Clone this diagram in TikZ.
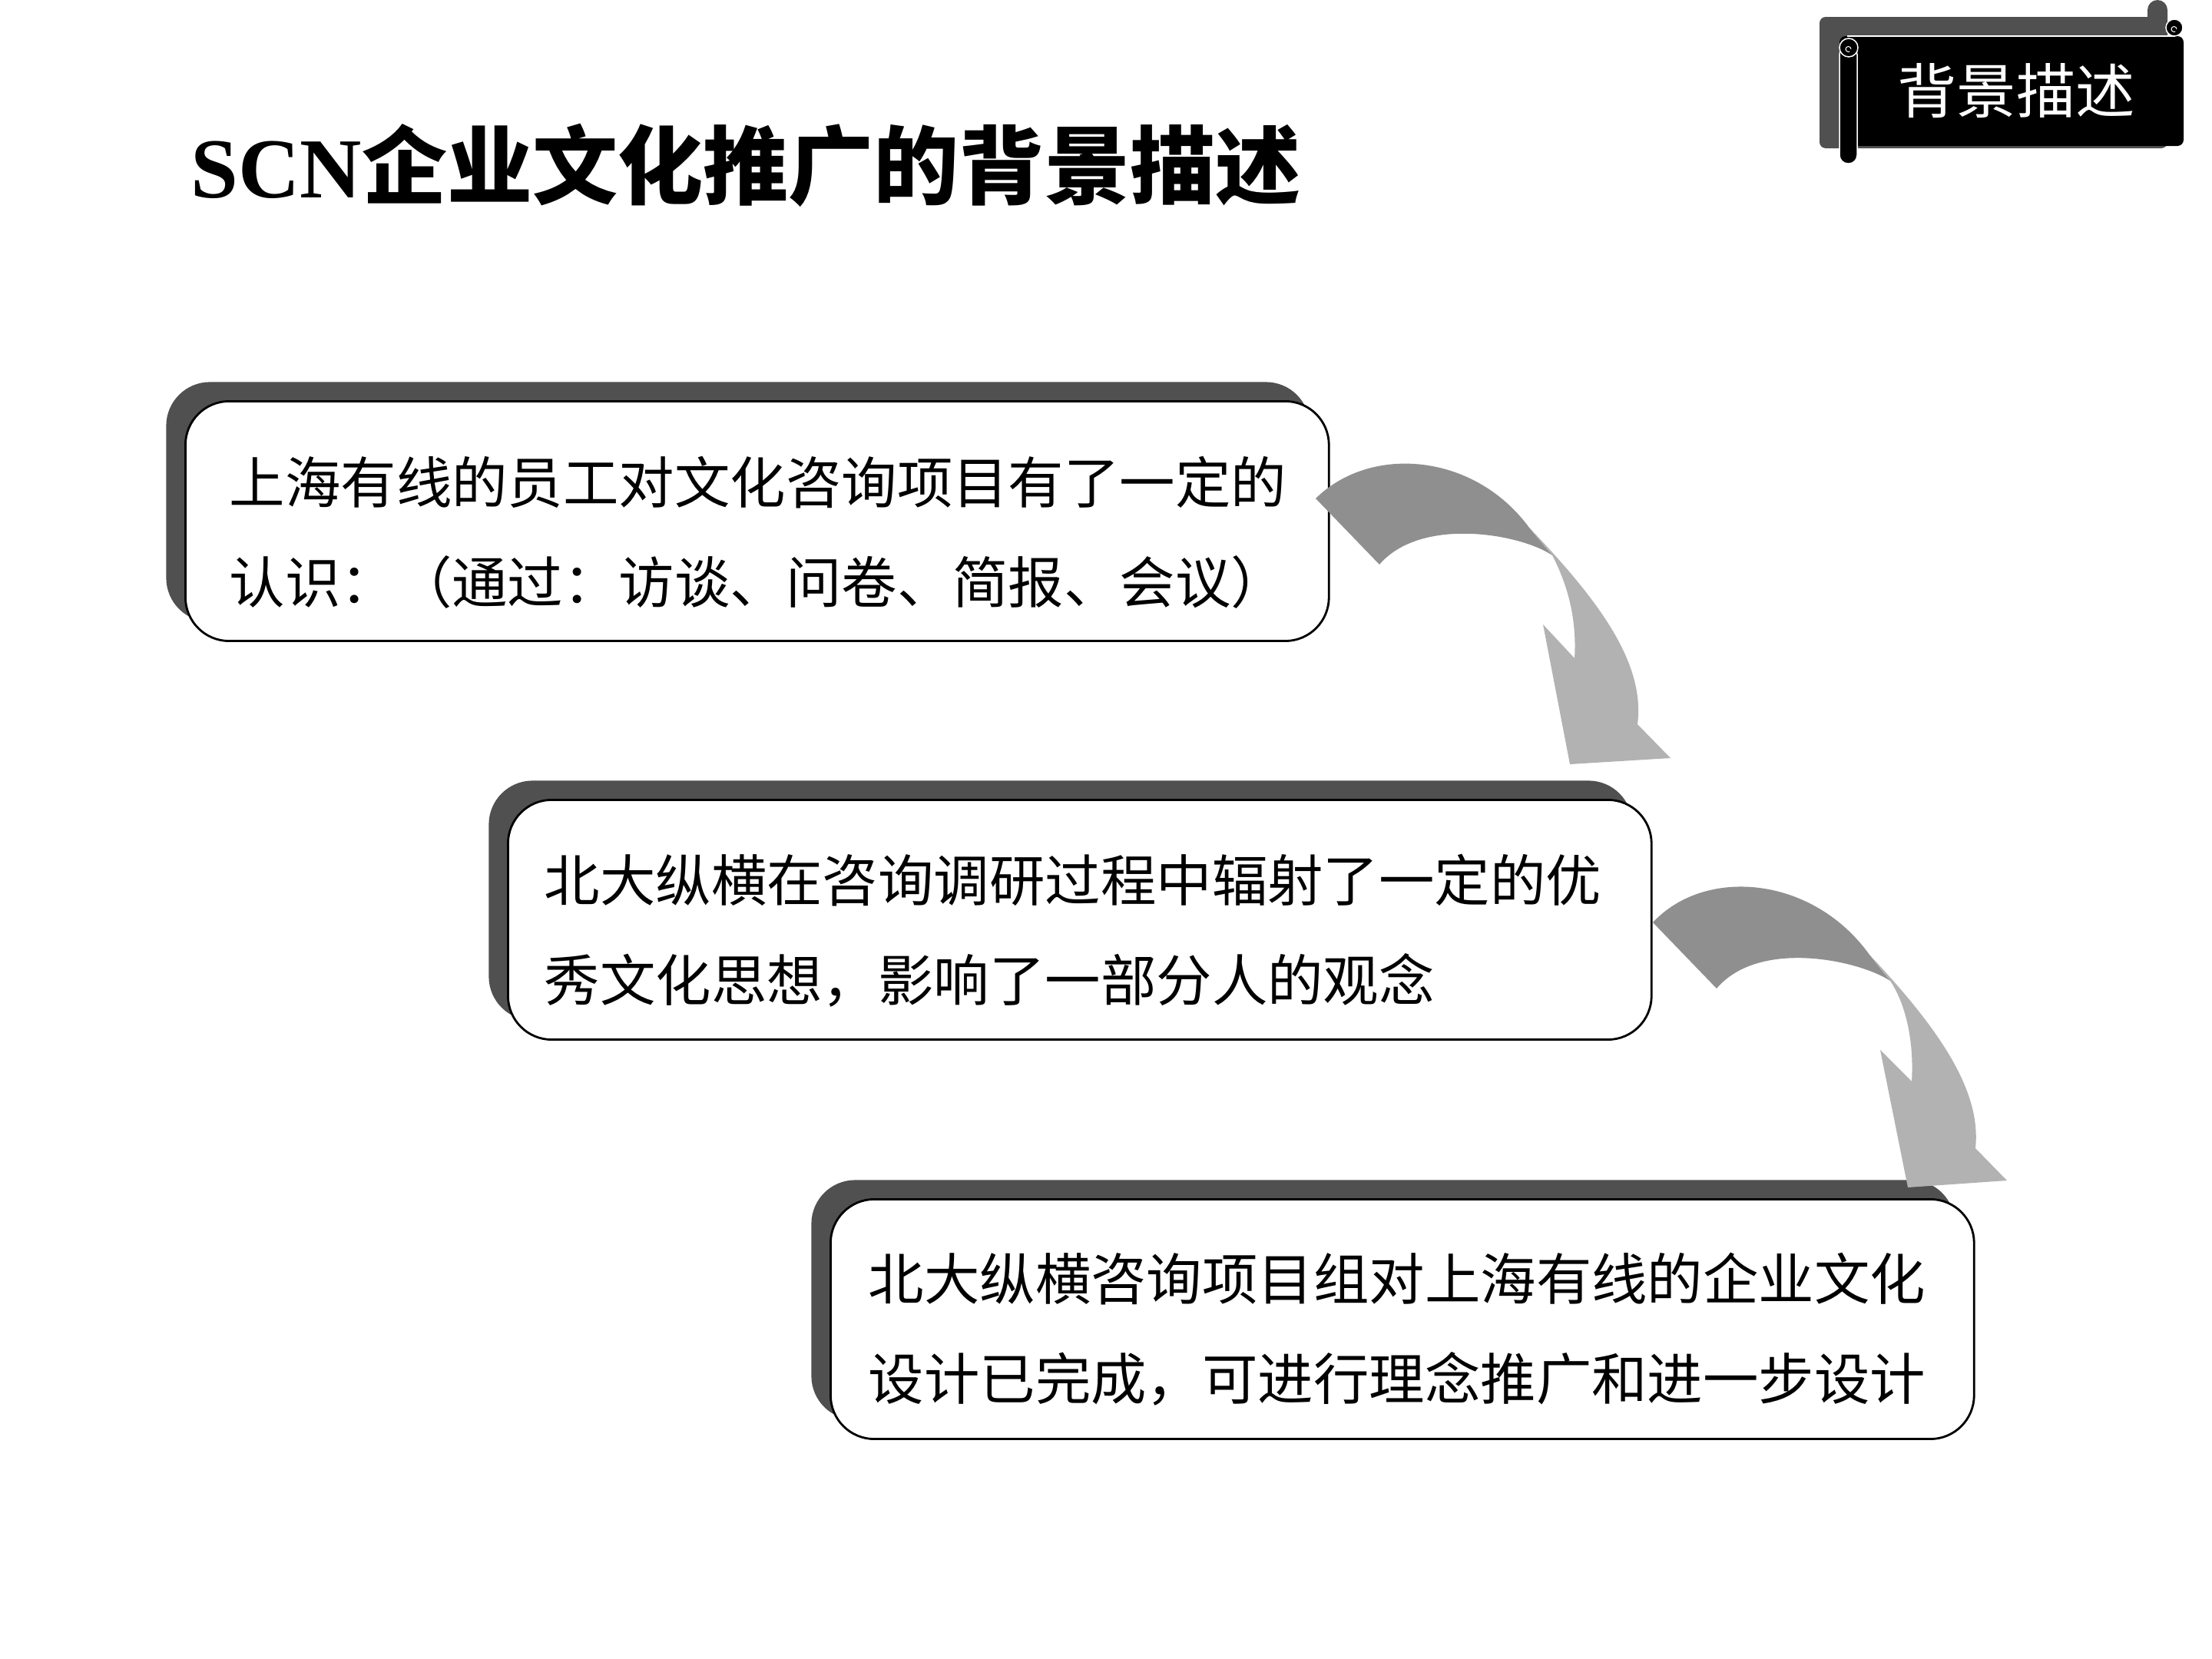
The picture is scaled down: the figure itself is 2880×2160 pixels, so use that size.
\documentclass[tikz,border=0pt]{standalone}
\usepackage{fontspec}
\setmainfont{Liberation Serif}
\newfontfamily\cjk{Noto Sans CJK SC}
\usetikzlibrary{shadows}
\definecolor{shadowgray}{HTML}{505050}
\definecolor{arrowdark}{HTML}{8F8F8F}
\definecolor{arrowlight}{HTML}{B2B2B2}
\tikzset{
  msgbox/.style={draw=black, line width=0.028cm, fill=white, rounded corners=0.57cm,
    minimum width=14.88cm, minimum height=3.12cm, inner sep=0pt, anchor=north west,
    general shadow={fill=shadowgray, shadow xshift=-0.25cm, shadow yshift=0.25cm}},
  msgtext/.style={anchor=west, inner sep=0pt, align=left,
    font=\cjk\fontsize{20.6pt}{37pt}\selectfont},
  rollline/.style={draw=white, line width=0.015cm, fill=black},
}
\begin{document}
\begin{tikzpicture}[x=0.01cm, y=-0.01cm]
\useasboundingbox (0,0) rectangle (2880,2160);

% title
\node[anchor=west, inner sep=0pt, font=\bfseries\fontsize{31.6pt}{36pt}\selectfont] (title) at (248,215) {SCN{\cjk 企业文化推广的背景描述}};

% banner (scroll)
\fill[shadowgray, rounded corners=0.08cm] (2369,22) rectangle (2822,193);
\fill[shadowgray, rounded corners=0.13cm] (2796,0) rectangle (2822,60);
\fill[black, rounded corners=0.08cm] (2395,47) rectangle (2843,190);
\draw[white, line width=0.015cm] (2405,47) -- (2832,47);
\draw[rollline] (2831,36) circle (0.11cm);
\draw[white, line width=0.01cm] (2834,38) arc (0:300:0.035cm);
\draw[rollline, rounded corners=0.11cm] (2395,60) rectangle (2418,213);
\draw[rollline] (2407,62) circle (0.12cm);
\draw[white, line width=0.01cm] (2410,64) arc (0:300:0.035cm);
\node[text=white, inner sep=0pt, font=\cjk\fontsize{22pt}{26pt}\selectfont] (tag) at (2625,118) {背景描述};

% boxes
\node[msgbox] (b1) at (240,521) {};
\node[msgbox] (b2) at (660,1040) {};
\node[msgbox] (b3) at (1080,1560) {};

\node[msgtext] (t1) at ([xshift=0.58cm, yshift=-0.145cm]b1.west)
  {上海有线的员工对文化咨询项目有了一定的\\认识：（通过：访谈、问卷、简报、会议）};
\node[msgtext] (t2) at ([xshift=0.48cm, yshift=-0.14cm]b2.west)
  {北大纵横在咨询调研过程中辐射了一定的优\\秀文化思想，影响了一部分人的观念};
\node[msgtext] (t3) at ([xshift=0.50cm, yshift=-0.13cm]b3.west)
  {北大纵横咨询项目组对上海有线的企业文化\\设计已完成，可进行理念推广和进一步设计};

% curved arrows
\fill[arrowdark] (1713,649) .. controls (1785,578) and (1920,590) .. (1991,687)
  -- (2021,723) .. controls (1980,695) and (1850,672) .. (1796,735) -- cycle;
\fill[arrowlight] (1991,687) .. controls (2085,785) and (2142,865) .. (2132,943)
  -- (2175,987) -- (2044,995) -- (2009,813) -- (2050,857)
  .. controls (2053,810) and (2043,765) .. (2021,723) -- cycle;

\fill[arrowdark] (2152,1201) .. controls (2220,1128) and (2360,1140) .. (2434,1243)
  -- (2461,1277) .. controls (2420,1250) and (2290,1222) .. (2235,1287) -- cycle;
\fill[arrowlight] (2434,1243) .. controls (2525,1340) and (2580,1420) .. (2572,1495)
  -- (2613,1537) -- (2484,1546) -- (2448,1367) -- (2489,1408)
  .. controls (2492,1360) and (2483,1310) .. (2461,1277) -- cycle;
\end{tikzpicture}
\end{document}
